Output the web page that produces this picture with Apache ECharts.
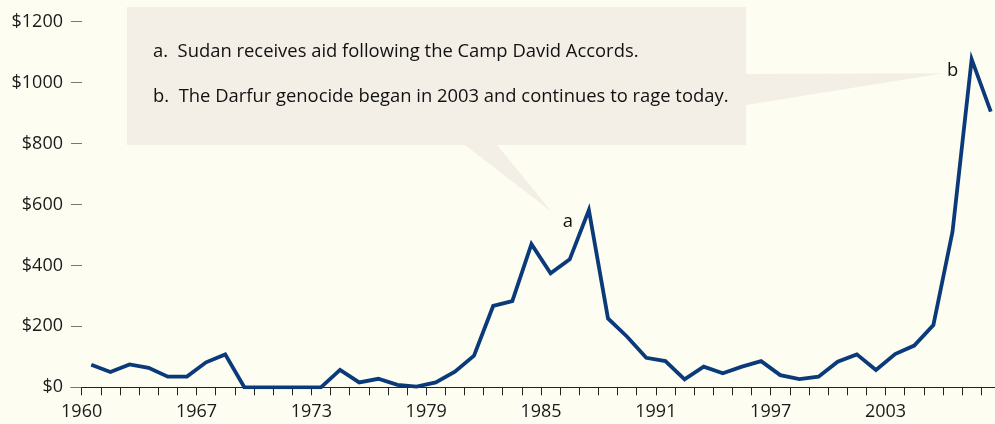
<!DOCTYPE html>
<html>
<head>
<meta charset="utf-8">
<script src="https://cdn.jsdelivr.net/npm/echarts@6/dist/echarts.min.js"></script>
<style>
html,body{margin:0;padding:0;background:#fdfdf2;}
#chart{width:995px;height:424px;}
</style>
</head>
<body>
<div id="chart"></div>
<script>
// Years (one point per year, 1960-2007)
var years = [];
for (var y = 1960; y <= 2007; y++) years.push(y);
// Aid values (USD millions)
var aidValues = [74, 50, 75, 64, 35, 35, 82, 108, 0, 0,
                 0, 0, 0, 57, 16, 28, 8, 2, 16, 51,
                 104, 267, 283, 470, 374, 420, 582, 226, 166, 97,
                 86, 26, 68, 46, 68, 86, 40, 27, 35, 84,
                 108, 57, 109, 137, 204, 511, 1077, 905];
// Tick labels on the x axis (every sixth tick, as printed in the source)
var tickLabelIndex = [0, 6, 12, 18, 24, 30, 36, 42];
var tickLabels = ['1960', '1967', '1973', '1979', '1985', '1991', '1997', '2003'];
var notes = ['a.  Sudan receives aid following the Camp David Accords.',
             'b.  The Darfur genocide began in 2003 and continues to rage today.'];
var noteMarks = ['a', 'b'];

var FONT = '"Open Sans", sans-serif';
var seriesData = aidValues.map(function (v, i) { return [i + 0.5, v]; });
var tickValues = years.map(function (_, i) { return i; });

var chart = echarts.init(document.getElementById('chart'));
chart.setOption({
  backgroundColor: '#fdfdf2',
  animation: false,
  grid: {left: 71, right: 0, top: 21.7, bottom: 36.7, containLabel: false},
  xAxis: {
    type: 'value',
    min: -0.557,
    max: 47.72,
    axisLine: {show: true, onZero: false, lineStyle: {color: '#222', width: 1}},
    axisTick: {show: true, length: 8, customValues: tickValues, lineStyle: {color: '#222', width: 1}},
    splitLine: {show: false},
    axisLabel: {
      customValues: tickLabelIndex,
      margin: 16,
      fontFamily: FONT, fontSize: 18, color: '#1a1a1a',
      formatter: function (v) {
        var k = tickLabelIndex.indexOf(Math.round(v));
        return k >= 0 ? tickLabels[k] : '';
      }
    }
  },
  yAxis: {
    type: 'value',
    min: 0, max: 1200, interval: 200,
    axisLine: {show: false, onZero: false},
    axisTick: {show: true, inside: true, length: 11, lineStyle: {color: '#777', width: 1}},
    splitLine: {show: false},
    axisLabel: {
      margin: 8, fontFamily: FONT, fontSize: 18, color: '#1a1a1a',
      formatter: function (v) { return '$' + v; }
    }
  },
  series: [{
    type: 'line',
    data: seriesData,
    symbol: 'none',
    lineStyle: {color: '#0b3a7a', width: 3.8, join: 'miter', cap: 'butt'},
    z: 3
  }]
});

// Callout box with pointers to the two peaks
function peakIndex(from, to) {
  var best = from;
  for (var i = from; i <= to; i++) if (aidValues[i] > aidValues[best]) best = i;
  return best;
}
var pa = peakIndex(20, 30), pb = peakIndex(40, aidValues.length - 1);
var A = chart.convertToPixel({gridIndex: 0}, seriesData[pa]);
var B = chart.convertToPixel({gridIndex: 0}, seriesData[pb]);
var bx0 = 127, by0 = 7, bx1 = 746, by1 = 145;
var tipA = [A[0] - 37, A[1] + 2];
var tipB = [B[0] - 28, B[1] + 14];
chart.setOption({
  graphic: [
    {type: 'polygon', z: 1, shape: {points: [
      [bx0, by0], [bx1, by0], [bx1, 74], tipB, [bx1, 105], [bx1, by1],
      [497, by1], tipA, [465, by1], [bx0, by1]
    ]}, style: {fill: '#f4efe6'}},
    {type: 'text', z: 5, left: 153, top: 43, style: {text: notes[0], font: '18.4px ' + FONT, fill: '#111'}},
    {type: 'text', z: 5, left: 153, top: 88, style: {text: notes[1], font: '18.4px ' + FONT, fill: '#111'}},
    {type: 'text', z: 5, x: A[0] - 21, y: A[1] + 12, style: {text: noteMarks[0], font: '18.4px ' + FONT, fill: '#111', align: 'center', verticalAlign: 'middle'}},
    {type: 'text', z: 5, x: B[0] - 19, y: B[1] + 12, style: {text: noteMarks[1], font: '18.4px ' + FONT, fill: '#111', align: 'center', verticalAlign: 'middle'}}
  ]
});
</script>
</body>
</html>
